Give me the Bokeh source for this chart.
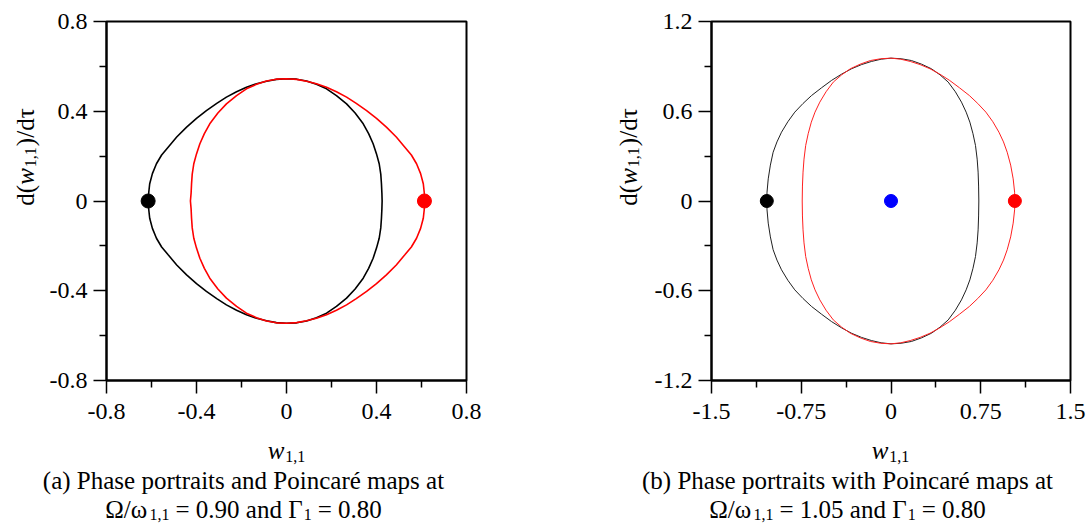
import math
from bokeh.plotting import figure
from bokeh.models import FixedTicker, Label
from bokeh.layouts import row, column
from bokeh.embed import file_html
from bokeh.resources import INLINE

# ---------------- data ----------------
a_ticks = [-0.8, -0.4, 0, 0.4, 0.8]
a_minor = [-0.6, -0.2, 0.2, 0.6]
a_tick_labels = ["-0.8", "-0.4", "0", "0.4", "0.8"]

b_xticks = [-1.5, -0.75, 0, 0.75, 1.5]
b_xminor = [-1.125, -0.375, 0.375, 1.125]
b_xtick_labels = ["-1.5", "-0.75", "0", "0.75", "1.5"]
b_yticks = [-1.2, -0.6, 0, 0.6, 1.2]
b_yminor = [-0.9, -0.3, 0.3, 0.9]
b_ytick_labels = ["-1.2", "-0.6", "0", "0.6", "1.2"]

# panel (a): Omega/omega = 0.90
black_a_x = [-0.615, -0.612, -0.608, -0.596, -0.578, -0.555, -0.526, -0.488, -0.444, -0.400,
             -0.356, -0.310, -0.267, -0.222, -0.178, -0.133, -0.089, -0.045, 0.000, 0.045,
             0.089, 0.133, 0.178, 0.222, 0.267, 0.305, 0.341, 0.365, 0.385, 0.400,
             0.412, 0.419, 0.422, 0.424, 0.425,
             0.424, 0.422, 0.419, 0.412, 0.400, 0.385, 0.365, 0.341, 0.305, 0.267,
             0.222, 0.178, 0.133, 0.089, 0.045, 0.000, -0.045, -0.089, -0.133, -0.178,
             -0.222, -0.267, -0.310, -0.356, -0.400, -0.444, -0.488, -0.526, -0.555, -0.578,
             -0.596, -0.608, -0.612, -0.615]
black_a_y = [0.000, 0.040, 0.077, 0.122, 0.166, 0.205, 0.240, 0.285, 0.329, 0.368,
             0.403, 0.435, 0.463, 0.487, 0.507, 0.523, 0.534, 0.542, 0.545, 0.543,
             0.535, 0.520, 0.500, 0.470, 0.433, 0.392, 0.344, 0.300, 0.255, 0.210,
             0.166, 0.120, 0.077, 0.035, 0.000,
             -0.035, -0.077, -0.120, -0.166, -0.210, -0.255, -0.300, -0.344, -0.392, -0.433,
             -0.470, -0.500, -0.520, -0.535, -0.543, -0.545, -0.542, -0.534, -0.523, -0.507,
             -0.487, -0.463, -0.435, -0.403, -0.368, -0.329, -0.285, -0.240, -0.205, -0.166,
             -0.122, -0.077, -0.040, 0.000]
red_a_x = [0.615, 0.612, 0.608, 0.596, 0.578, 0.555, 0.526, 0.488, 0.444, 0.400,
           0.356, 0.310, 0.267, 0.222, 0.178, 0.133, 0.089, 0.045, 0.000, -0.045,
           -0.089, -0.133, -0.178, -0.222, -0.267, -0.305, -0.341, -0.365, -0.385, -0.400,
           -0.412, -0.419, -0.422, -0.424, -0.427,
           -0.424, -0.422, -0.419, -0.412, -0.400, -0.385, -0.365, -0.341, -0.305, -0.267,
           -0.222, -0.178, -0.133, -0.089, -0.045, 0.000, 0.045, 0.089, 0.133, 0.178,
           0.222, 0.267, 0.310, 0.356, 0.400, 0.444, 0.488, 0.526, 0.555, 0.578,
           0.596, 0.608, 0.612, 0.615]
red_a_y = [0.000, 0.040, 0.077, 0.122, 0.166, 0.205, 0.240, 0.285, 0.329, 0.368,
           0.403, 0.435, 0.463, 0.487, 0.507, 0.523, 0.534, 0.542, 0.545, 0.543,
           0.535, 0.520, 0.500, 0.470, 0.433, 0.392, 0.344, 0.300, 0.255, 0.210,
           0.166, 0.120, 0.077, 0.035, 0.000,
           -0.035, -0.077, -0.120, -0.166, -0.210, -0.255, -0.300, -0.344, -0.392, -0.433,
           -0.470, -0.500, -0.520, -0.535, -0.543, -0.545, -0.542, -0.534, -0.523, -0.507,
           -0.487, -0.463, -0.435, -0.403, -0.368, -0.329, -0.285, -0.240, -0.205, -0.166,
           -0.122, -0.077, -0.040, 0.000]
poincare_a_black = (-0.615, 0.0)
poincare_a_red = (0.613, 0.0)

# panel (b): Omega/omega = 1.05
black_b_x = [-1.038, -1.036, -1.026, -1.008, -0.985, -0.953, -0.915, -0.862, -0.804, -0.735,
             -0.664, -0.580, -0.497, -0.413, -0.330, -0.246, -0.163, -0.082, 0.000, 0.085,
             0.171, 0.255, 0.338, 0.410, 0.478, 0.538, 0.589, 0.628, 0.659, 0.685,
             0.706, 0.720, 0.728, 0.732, 0.734,
             0.732, 0.728, 0.720, 0.706, 0.685, 0.659, 0.628, 0.589, 0.538, 0.478,
             0.410, 0.338, 0.255, 0.171, 0.085, 0.000, -0.082, -0.163, -0.246, -0.330,
             -0.413, -0.497, -0.580, -0.664, -0.735, -0.804, -0.862, -0.915, -0.953, -0.985,
             -1.008, -1.026, -1.036, -1.038]
black_b_y = [0.000, 0.059, 0.148, 0.240, 0.326, 0.395, 0.460, 0.530, 0.594, 0.652,
             0.705, 0.757, 0.806, 0.848, 0.884, 0.912, 0.933, 0.948, 0.955, 0.951,
             0.939, 0.915, 0.884, 0.843, 0.795, 0.730, 0.661, 0.594, 0.527, 0.450,
             0.371, 0.280, 0.193, 0.100, 0.000,
             -0.100, -0.193, -0.280, -0.371, -0.450, -0.527, -0.594, -0.661, -0.730, -0.795,
             -0.843, -0.884, -0.915, -0.939, -0.951, -0.955, -0.948, -0.933, -0.912, -0.884,
             -0.848, -0.806, -0.757, -0.705, -0.652, -0.594, -0.530, -0.460, -0.395, -0.326,
             -0.240, -0.148, -0.059, 0.000]
red_b_x = [1.035, 1.033, 1.021, 1.000, 0.971, 0.940, 0.902, 0.851, 0.793, 0.725,
           0.655, 0.572, 0.490, 0.408, 0.326, 0.243, 0.161, 0.081, 0.000, -0.086,
           -0.172, -0.257, -0.340, -0.413, -0.482, -0.543, -0.595, -0.635, -0.666, -0.692,
           -0.713, -0.727, -0.735, -0.740, -0.742,
           -0.740, -0.735, -0.727, -0.713, -0.692, -0.666, -0.635, -0.595, -0.543, -0.482,
           -0.413, -0.340, -0.257, -0.172, -0.086, 0.000, 0.081, 0.161, 0.243, 0.326,
           0.408, 0.490, 0.572, 0.655, 0.725, 0.793, 0.851, 0.902, 0.940, 0.971,
           1.000, 1.021, 1.033, 1.035]
red_b_y = [0.000, 0.059, 0.148, 0.240, 0.326, 0.395, 0.460, 0.530, 0.594, 0.652,
           0.705, 0.757, 0.806, 0.848, 0.884, 0.912, 0.933, 0.948, 0.955, 0.951,
           0.939, 0.915, 0.884, 0.843, 0.795, 0.730, 0.661, 0.594, 0.527, 0.450,
           0.371, 0.280, 0.193, 0.100, 0.000,
           -0.100, -0.193, -0.280, -0.371, -0.450, -0.527, -0.594, -0.661, -0.730, -0.795,
           -0.843, -0.884, -0.915, -0.939, -0.951, -0.955, -0.948, -0.933, -0.912, -0.884,
           -0.848, -0.806, -0.757, -0.705, -0.652, -0.594, -0.530, -0.460, -0.395, -0.326,
           -0.240, -0.148, -0.059, 0.000]
poincare_b_black = (-1.038, 0.0)
poincare_b_blue = (0.0, 0.0)
poincare_b_red = (1.035, 0.0)

caption_a = ["(a) Phase portraits and Poincaré maps at", "Ω/ω", "1,1", "= 0.90 and Γ", "1", "= 0.80"]
caption_b = ["(b) Phase portraits with Poincaré maps at", "Ω/ω", "1,1", "= 1.05 and Γ", "1", "= 0.80"]

# ---------------- styling helpers ----------------
FONT = "Liberation Serif"
TICK_PX = 24
TXT = 25
SUB = 16
EM = {'0': .5, '1': .5, '2': .5, '3': .5, '4': .5, '5': .5, '6': .5, '7': .5, '8': .5, '9': .5,
      '.': .25, ',': .25, ' ': .25, '=': .564, '(': .333, ')': .333, '/': .278, 'd': .5,
      'a': .444, 'n': .5, 'Ω': .768, 'ω': .686, 'Γ': .578, 'τ': .44, 'w': .667, '-': .333}


def twidth(s, size):
    return sum(EM.get(c, .5) for c in s) * size


def lab(p, text, x, y, size, italic=False, align="left", angle=0.0):
    p.add_layout(Label(x=x, y=y, x_units="screen", y_units="screen", text=text,
                       text_font=FONT, text_font_size=f"{size}px",
                       text_font_style="italic" if italic else "normal",
                       text_align=align, text_baseline="alphabetic",
                       text_color="black", angle=angle))


def place(p, pieces, center, base, angle=0.0):
    total = sum(twidth(t, s) + g for t, s, it, d, g in pieces)
    pos = center - total / 2
    for t, s, it, d, g in pieces:
        if angle == 0.0:
            lab(p, t, pos, base - d, s, it)
        else:
            lab(p, t, base + d, pos, s, it, angle=angle)
        pos += twidth(t, s) + g


def text_fig(w, h):
    p = figure(width=w, height=h, output_backend="svg", toolbar_location=None,
               x_range=(0, w), y_range=(0, h), x_axis_type=None, y_axis_type=None,
               min_border_left=0, min_border_right=0, min_border_top=0, min_border_bottom=0,
               outline_line_color=None, background_fill_color="white",
               border_fill_color="white")
    return p


def make_fig(width, height, bl, br, bt, bb, xr, yr, xt, xm, xl, yt, ym, yl):
    p = figure(width=width, height=height, output_backend="svg", toolbar_location=None,
               x_range=xr, y_range=yr, min_border_left=bl, min_border_right=br,
               min_border_top=bt, min_border_bottom=bb,
               background_fill_color="white", border_fill_color="white")
    p.xgrid.visible = False
    p.ygrid.visible = False
    p.outline_line_color = "black"
    p.outline_line_width = 2
    p.xaxis.ticker = FixedTicker(ticks=xt, minor_ticks=xm)
    p.yaxis.ticker = FixedTicker(ticks=yt, minor_ticks=ym)
    p.xaxis.major_label_overrides = dict(zip(xt, xl))
    p.yaxis.major_label_overrides = dict(zip(yt, yl))
    for ax in (p.xaxis[0], p.yaxis[0]):
        ax.axis_line_width = 2
        ax.axis_line_color = "black"
        ax.major_tick_in = 0
        ax.major_tick_out = 13
        ax.minor_tick_in = 0
        ax.minor_tick_out = 7
        ax.major_tick_line_width = 1.5
        ax.minor_tick_line_width = 1.5
        ax.major_tick_line_color = "black"
        ax.minor_tick_line_color = "black"
        ax.major_label_text_font = FONT
        ax.major_label_text_font_size = f"{TICK_PX}px"
        ax.major_label_text_color = "black"
    p.xaxis.major_label_standoff = 10
    p.yaxis.major_label_standoff = 6
    return p


def ylabel_fig(w, h, base, center):
    p = text_fig(w, h)
    place(p, [("d(", TXT, False, 0, 0), ("w", TXT, True, 0, 1), ("1,1", SUB, False, 5, 1),
              (")/dτ", TXT, False, 0, 0)], center, base, angle=math.pi / 2)
    return p


def bottom_fig(w, h, xlab_center, cap_center, cap):
    p = text_fig(w, h)
    place(p, [("w", TXT, True, 0, 1), ("1,1", SUB, False, 6, 0)], xlab_center, 75)
    lab(p, cap[0], cap_center, 45, TXT, align="center")
    place(p, [(cap[1], TXT, False, 0, 1), (cap[2], SUB, False, 5, 6), (cap[3], TXT, False, 0, 1),
              (cap[4], SUB, False, 5, 6), (cap[5], TXT, False, 0, 0)], cap_center, 16)
    return p


# ---------------- panel (a) ----------------
pa = make_fig(515, 425, 61, 94, 21, 45, (-0.8, 0.8), (-0.8, 0.8), a_ticks, a_minor,
              a_tick_labels, a_ticks, a_minor, a_tick_labels)
pa.line(black_a_x, black_a_y, line_color="black", line_width=1.6)
pa.line(red_a_x, red_a_y, line_color="#ff0000", line_width=1.6)
pa.scatter([poincare_a_black[0]], [poincare_a_black[1]], size=14, color="black")
pa.scatter([poincare_a_red[0]], [poincare_a_red[1]], size=14, color="#ff0000")
ya = ylabel_fig(45, 425, 25, 224)
ba = bottom_fig(560, 100, 286, 243, caption_a)

# ---------------- panel (b) ----------------
pb = make_fig(439, 425, 61, 19, 21, 45, (-1.5, 1.5), (-1.2, 1.2), b_xticks, b_xminor,
              b_xtick_labels, b_yticks, b_yminor, b_ytick_labels)
pb.line(black_b_x, black_b_y, line_color="#202020", line_width=1.0)
pb.line(red_b_x, red_b_y, line_color="#ff2020", line_width=1.0)
pb.scatter([poincare_b_black[0]], [poincare_b_black[1]], size=13, color="black")
pb.scatter([poincare_b_blue[0]], [poincare_b_blue[1]], size=13, color="#0000ff")
pb.scatter([poincare_b_red[0]], [poincare_b_red[1]], size=13, color="#ff0000")
yb = ylabel_fig(90, 425, 68, 224)
bb = bottom_fig(529, 100, 330, 287, caption_b)

layout = row(column(row(ya, pa), ba), column(row(yb, pb), bb))
open("out.html", "w").write(file_html(layout, INLINE))
